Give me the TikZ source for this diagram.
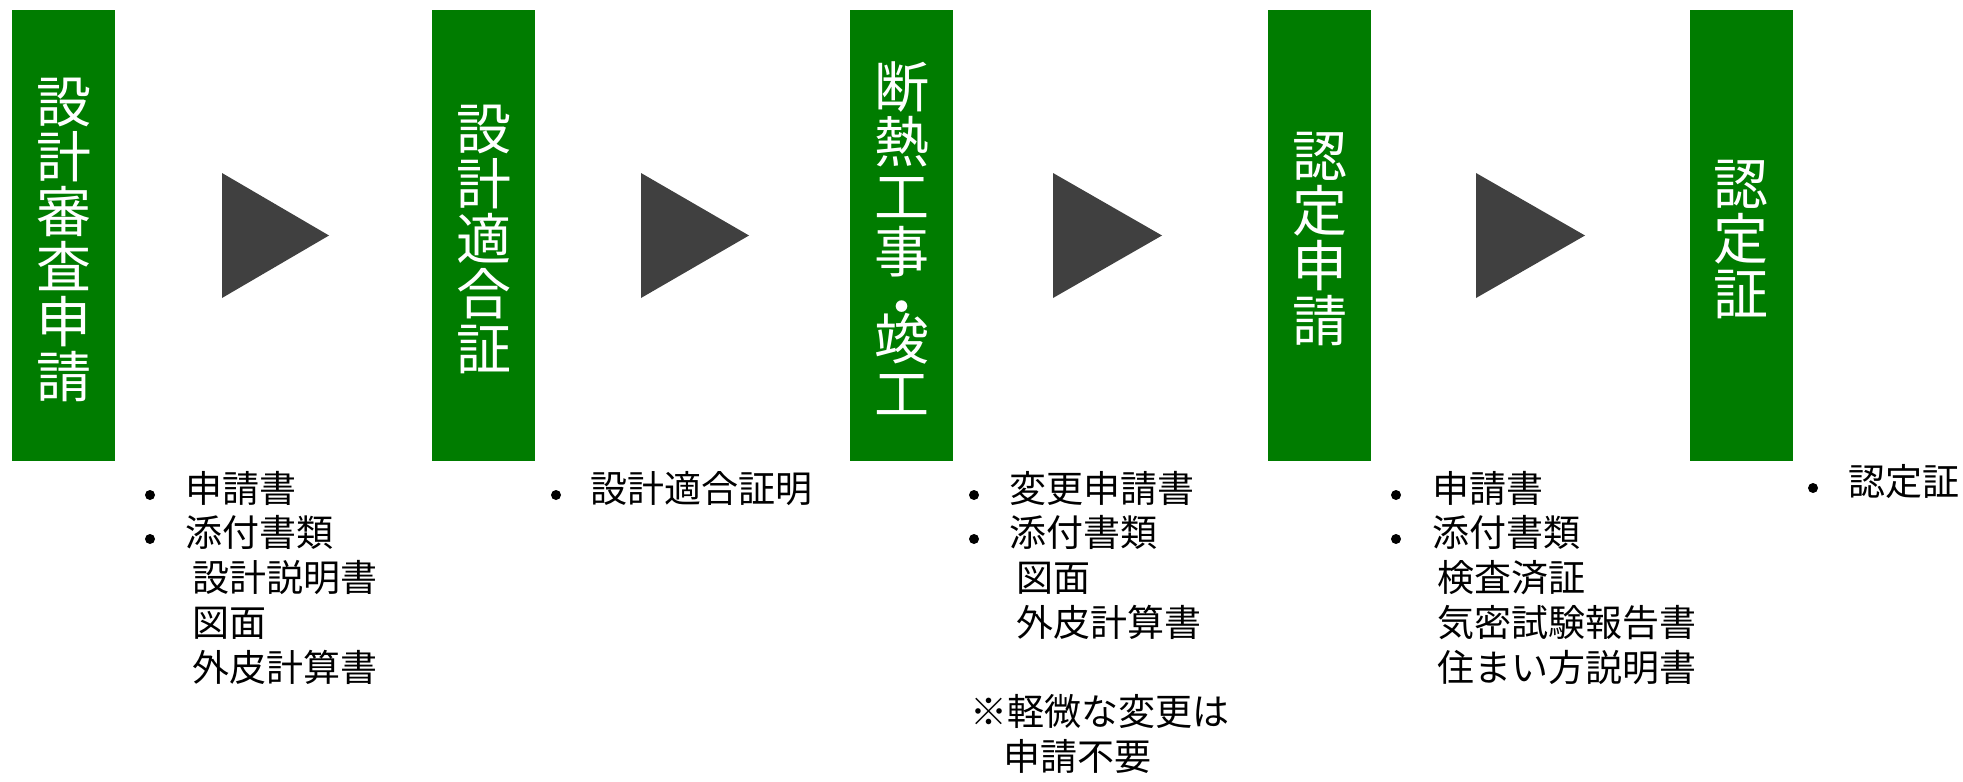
\documentclass[tikz,border=0pt]{standalone}
\usepackage{fontspec}
\setmainfont{Noto Sans CJK JP}
\definecolor{stagegreen}{RGB}{0,124,0}
\definecolor{arrowgray}{RGB}{64,64,64}
\tikzset{
  stage/.style={fill=stagegreen, draw=none, minimum width=51.5pt, minimum height=225.5pt, inner sep=0pt},
  stagetext/.style={text=white, align=center, inner sep=0pt, font=\fontsize{27.5}{27.5}\selectfont},
  flowarrow/.style={fill=arrowgray},
  item/.style={anchor=west, inner sep=0pt, text height=0.88em, text depth=0.12em, font=\fontsize{18.5}{22.5}\selectfont},
  bulletdot/.style={circle, fill=black, inner sep=0pt, minimum size=5pt}
}
\begin{document}
\begin{tikzpicture}[x=0.5pt,y=-0.5pt]
\useasboundingbox (0,0) rectangle (1963,781);
% stages
\node[stage] (s1) at (63.5,235.5) {};
\node[stage] (s2) at (483.5,235.5) {};
\node[stage] (s3) at (901.5,235.5) {};
\node[stage] (s4) at (1319.5,235.5) {};
\node[stage] (s5) at (1741,235.5) {};
\node[stagetext] (t1) at (63.5,240) {設\\計\\審\\査\\申\\請};
\node[stagetext] (t2) at (483.5,239.5) {設\\計\\適\\合\\証};
\node[stagetext] (t3) at (901.5,238) {断\\熱\\工\\事\\・\\[-11.5pt]竣\\工};
\node[stagetext] (t4) at (1319.5,239.5) {認\\定\\申\\請};
\node[stagetext] (t5) at (1741,240) {認\\定\\証};
% arrows
\fill[flowarrow] (222,173) -- (329,235.5) -- (222,298) -- cycle;
\fill[flowarrow] (641,173) -- (749,235.5) -- (641,298) -- cycle;
\fill[flowarrow] (1053,173) -- (1162,235.5) -- (1053,298) -- cycle;
\fill[flowarrow] (1476,173) -- (1585,235.5) -- (1476,298) -- cycle;
% column 1
\node[bulletdot] (b1a) at (150,495) {};
\node[bulletdot] (b1b) at (150,539) {};
\node[item] (l1a) at (185,495) {申請書};
\node[item] (l1b) at (185,539) {添付書類};
\node[item] (l1c) at (192,584) {設計説明書};
\node[item] (l1d) at (192,629) {図面};
\node[item] (l1e) at (192,674) {外皮計算書};
% column 2
\node[bulletdot] (b2a) at (556,495) {};
\node[item] (l2a) at (590,495) {設計適合証明};
% column 3
\node[bulletdot] (b3a) at (974,495) {};
\node[bulletdot] (b3b) at (974,539) {};
\node[item] (l3a) at (1009,495) {変更申請書};
\node[item] (l3b) at (1009,539) {添付書類};
\node[item] (l3c) at (1016,584) {図面};
\node[item] (l3d) at (1016,629) {外皮計算書};
\node[item] (l3e) at (970,718) {※軽微な変更は};
\node[item] (l3f) at (1003,763) {申請不要};
% column 4
\node[bulletdot] (b4a) at (1396,495) {};
\node[bulletdot] (b4b) at (1396,539) {};
\node[item] (l4a) at (1432,495) {申請書};
\node[item] (l4b) at (1432,539) {添付書類};
\node[item] (l4c) at (1437,584) {検査済証};
\node[item] (l4d) at (1437,629) {気密試験報告書};
\node[item] (l4e) at (1437,674) {住まい方説明書};
% column 5
\node[bulletdot] (b5a) at (1813,488) {};
\node[item] (l5a) at (1848,488) {認定証};
\end{tikzpicture}
\end{document}
